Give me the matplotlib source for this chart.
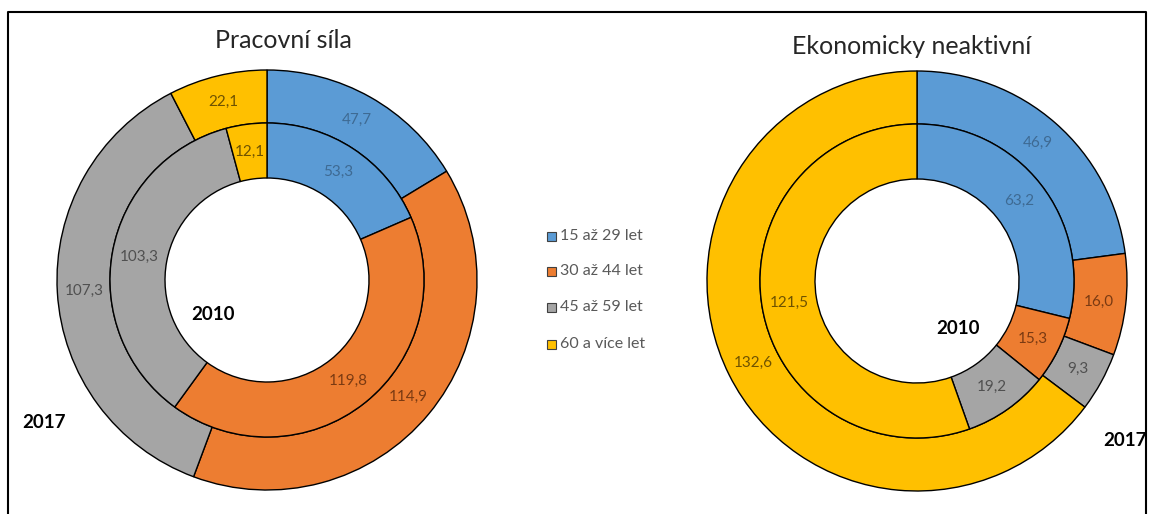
import matplotlib
matplotlib.use("Agg")
import matplotlib.pyplot as plt
from matplotlib.patches import Rectangle
import numpy as np

plt.rcParams['font.family'] = ['Lato', 'DejaVu Sans']

categories = ["15 až 29 let", "30 až 44 let", "45 až 59 let", "60 a více let"]
colors = ["#5B9BD5", "#ED7D31", "#A5A5A5", "#FFC000"]
label_colors = ["#3E6A93", "#7A3A12", "#505050", "#6E5200"]

titles = ["Pracovní síla", "Ekonomicky neaktivní"]
labor_2010 = [53.3, 119.8, 103.3, 12.1]
labor_2017 = [47.7, 114.9, 107.3, 22.1]
inactive_2010 = [63.2, 15.3, 19.2, 121.5]
inactive_2017 = [46.9, 16.0, 9.3, 132.6]
year_inner = "2010"
year_outer = "2017"

W, H = 1153, 514
fig = plt.figure(figsize=(W / 100, H / 100), dpi=100)
ax = fig.add_axes([0, 0, 1, 1])


def Y(y):
    return H - y


def fmt(v):
    return f"{v:.1f}".replace(".", ",")


def ring(vals, center, radius, width):
    wedges, _ = ax.pie(vals, radius=radius, center=center, startangle=90,
                       counterclock=False, colors=colors,
                       wedgeprops=dict(width=width, edgecolor="black", linewidth=1.0))
    rm = radius - width / 2
    for w, v, lc in zip(wedges, vals, label_colors):
        th = np.deg2rad((w.theta1 + w.theta2) / 2)
        ax.text(center[0] + rm * np.cos(th), center[1] + rm * np.sin(th), fmt(v),
                ha="center", va="center", fontsize=11, color=lc)


R_OUT, R_MID, R_IN = 210, 157, 102
charts = [
    (labor_2010, labor_2017, (267, Y(280))),
    (inactive_2010, inactive_2017, (917, Y(281))),
]
for (v10, v17, c) in charts:
    ring(v17, c, R_OUT, R_OUT - R_MID)
    ring(v10, c, R_MID, R_MID - R_IN)

ax.text(283, Y(41), titles[0], ha="center", va="center", fontsize=18, color="#262626")
ax.text(912, Y(46), titles[1], ha="center", va="center", fontsize=18, color="#262626")

ax.text(213, Y(314), year_inner, ha="center", va="center", fontsize=13.5, fontweight="bold", color="black")
ax.text(44, Y(422), year_outer, ha="center", va="center", fontsize=13.5, fontweight="bold", color="black")
ax.text(958, Y(328), year_inner, ha="center", va="center", fontsize=13.5, fontweight="bold", color="black")
ax.text(1125, Y(440), year_outer, ha="center", va="center", fontsize=13.5, fontweight="bold", color="black")

# legend
leg_y = [236, 271, 307, 344]
for cat, col, yy in zip(categories, colors, leg_y):
    ax.add_patch(Rectangle((547, Y(yy) - 4.5), 9, 9, facecolor=col, edgecolor="#404040", linewidth=0.8))
    ax.text(560, Y(yy), cat, ha="left", va="center", fontsize=11.5, color="#595959")

# frame
ax.plot([8, 8, 1146, 1146], [0, Y(12), Y(12), 0], color="black", linewidth=1.5)

ax.set_xlim(0, W)
ax.set_ylim(0, H)
ax.set_aspect("equal")
ax.axis("off")
fig.savefig("out.png", dpi=100)
